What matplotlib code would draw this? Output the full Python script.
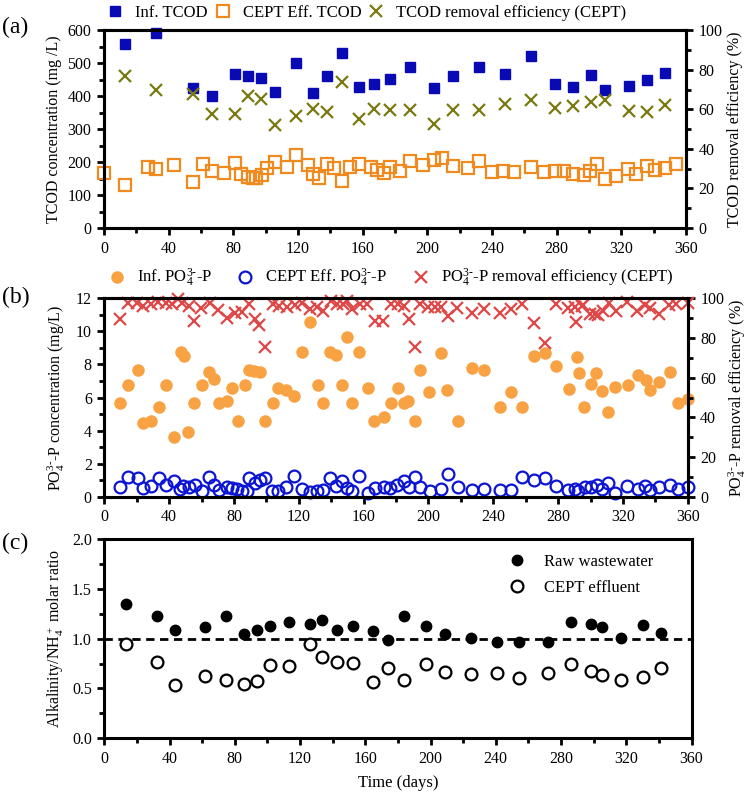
import numpy as np
import matplotlib
matplotlib.use('Agg')
import matplotlib.pyplot as plt
from matplotlib.ticker import MultipleLocator
from matplotlib.lines import Line2D

plt.rcParams['font.family'] = ['Liberation Serif', 'DejaVu Serif']
plt.rcParams['mathtext.fontset'] = 'custom'
plt.rcParams['mathtext.rm'] = 'Liberation Serif'
plt.rcParams['mathtext.it'] = 'Liberation Serif:italic'
plt.rcParams['font.size'] = 11

# ---- panel (a): TCOD ----
a_inf_day = [13, 32, 55, 67, 81, 89, 97, 106, 119, 129, 138, 147, 158, 167,
             177, 189, 204, 216, 232, 248, 264, 279, 290, 301, 310, 325, 336, 347]
a_inf = [557, 593, 426, 400, 466, 462, 456, 413, 501, 410, 460, 531, 428, 438,
         452, 490, 424, 461, 490, 467, 522, 437, 429, 463, 419, 431, 449, 472]
a_rem = [76.7, 70, 67.6, 57.5, 57.8, 66.8, 65.4, 52.3, 56.5, 60, 58.7, 73.9, 55, 60,
         59.5, 59.5, 52.8, 59.5, 59.5, 62.9, 65, 60.7, 61.7, 63.7, 65, 59, 58.7, 62]
a_eff_day = [0, 13, 27, 32, 43, 55, 61, 67, 74, 81, 85, 89, 92, 94, 97.5, 101, 106,
             113, 119, 126, 129, 133, 138, 142, 147, 152, 158, 165, 169, 173, 177,
             183, 189, 197, 204, 209, 216, 225, 232, 240, 247, 253.5, 264, 272, 279,
             284.5, 290, 297, 300.5, 304.7, 310, 316.6, 324, 329, 335.6, 341, 346.7, 354]
a_eff = [168, 132, 185, 178, 191, 140, 194, 172, 166, 197, 164, 155, 152, 152, 162, 181, 199,
         184, 221, 191, 164, 152, 193, 181, 142, 185, 195, 185, 176, 168, 185,
         172, 203, 191, 205, 213, 188, 181, 203, 170, 174, 170, 185, 170, 174,
         172, 164, 160, 172, 193, 148, 158, 178, 164, 188, 176, 181, 195]

# ---- panel (b): PO4-P ----
b_rem_day = [9.7, 14.8, 20, 24, 28.8, 33.3, 38, 42, 45.7, 48, 52, 55.5, 59.7, 65, 70, 76,
             80.6, 84.8, 89, 93, 95.7, 99, 104, 108, 112.5, 117.7, 121.8, 127, 131, 135,
             140, 143.4, 147.5, 150, 153, 157.8, 162, 167, 172, 177, 181, 185, 188, 192,
             195, 200, 204, 207.6, 212, 217.5, 226.7, 234, 244, 251, 258, 265, 272, 279,
             286, 290.5, 291, 294.6, 295.6, 299.7, 302.8, 304.8, 308, 311.6, 315.8,
             322.7, 328.5, 333.6, 336.7, 342, 348.6, 353, 360]
b_rem = [89.6, 97.5, 97.6, 96, 97.2, 98.3, 97.8, 97, 99.5, 97.8, 96, 88.7, 95, 97.5, 94, 90,
         92.4, 93, 97, 89.4, 86.5, 75.3, 97, 96, 95.5, 96.6, 97.5, 94.4, 95.5, 93.4,
         98.8, 97, 97, 98.5, 94.5, 97, 97, 88.7, 88.7, 97, 97, 96, 89.4, 75.3,
         97, 95.6, 95.6, 95.6, 91, 95, 92.4, 94.4, 92.4, 94.4, 97, 87.7, 77.3, 97,
         95, 95.6, 88, 96, 96.8, 92, 92, 91.6, 93.7, 97.5, 93.7,
         98.3, 93.7, 96.8, 95, 92, 96.8, 97, 97.8]
b_inf_day = [9.7, 14.8, 20.6, 24, 28.8, 33.8, 37.9, 42.8, 47.3, 49, 51.9, 55.5, 60, 64.8,
             67.9, 70.8, 76, 79, 82.7, 86.8, 89.3, 92.6, 96.3, 99, 104, 107.4, 112, 117,
             121.8, 127, 132, 135, 139.3, 142.8, 146.9, 150, 153, 157, 162.5, 166.6,
             172.8, 177, 181, 185, 187.6, 191.7, 194.8, 200.6, 207.6, 211.7, 218, 226.7,
             234, 244, 250.8, 258, 265, 272, 279, 287, 291.5, 293, 296, 300, 303.4, 307,
             311, 315.3, 323, 329, 334.3, 337, 342, 349, 354, 360]
b_inf = [5.69, 6.76, 7.66, 4.48, 4.56, 5.44, 6.76, 3.59, 8.77, 8.51, 3.89, 5.65, 6.76, 7.56,
         7.10, 5.65, 5.77, 6.56, 4.58, 6.76, 7.66, 7.58, 7.56, 4.58, 5.69, 6.56, 6.45, 6.09,
         8.77, 10.55, 6.76, 5.65, 8.77, 8.55, 6.76, 9.64, 5.65, 8.77, 6.56, 4.58,
         4.80, 5.69, 6.56, 5.65, 5.79, 4.58, 7.66, 6.35, 8.67, 6.45, 4.58, 7.76,
         7.66, 5.44, 6.35, 5.44, 8.51, 8.67, 7.90, 6.50, 8.43, 7.46, 5.44, 6.80, 7.46, 6.41,
         5.10, 6.62, 6.77, 7.34, 7.06, 6.45, 6.94, 7.56, 5.69, 5.89]
b_eff_day = [9.7, 14.8, 20.6, 24, 28.8, 33.8, 37.9, 42.8, 46.7, 48.8, 52.3, 56, 60, 64.8,
             67.9, 70.8, 75.7, 78.6, 81.7, 84.8, 87.9, 89.3, 93, 96.3, 99.2, 103.3, 107.4,
             112, 117, 121.8, 127, 131, 135, 139.3, 142.8, 146.9, 150, 153, 157, 162.5,
             167, 172.8, 176.5, 180.8, 185, 188, 191.7, 195, 201, 208, 212, 218, 227,
             234, 244, 251, 258, 265, 272, 279, 286, 290.5, 292.5, 296.6, 300, 303.8,
             307, 311, 315, 322.7, 329, 333.6, 336.7, 342, 349, 354, 360]
b_eff = [0.57, 1.17, 1.15, 0.51, 0.65, 1.11, 0.71, 0.95, 0.45, 0.65, 0.61, 0.69, 0.36, 1.17,
         0.71, 0.40, 0.61, 0.51, 0.45, 0.36, 0.34, 1.13, 0.81, 1.03, 1.11, 0.36, 0.32,
         0.61, 1.25, 0.45, 0.30, 0.34, 0.40, 1.15, 0.65, 0.97, 0.51, 0.34, 1.25, 0.24,
         0.55, 0.57, 0.53, 0.71, 0.97, 0.61, 1.17, 0.61, 0.36, 0.45, 1.37, 0.61, 0.40,
         0.45, 0.40, 0.40, 1.17, 1.03, 1.11, 0.65, 0.40, 0.45, 0.36, 0.57, 0.57, 0.69,
         0.45, 0.85, 0.24, 0.65, 0.45, 0.65, 0.40, 0.57, 0.71, 0.45, 0.57]

# ---- panel (c): alkalinity / NH4+ ----
c_day = [13.3, 32.5, 43.3, 61.7, 74.4, 85.6, 93.4, 101.7, 113.4, 126.3, 133.4, 142.4,
         152.2, 164.5, 173.7, 183.7, 197, 209, 225, 240.5, 254, 272, 286.4, 298.3,
         305.2, 317, 330.3, 341.2]
c_raw = [1.345, 1.23, 1.087, 1.114, 1.227, 1.047, 1.087, 1.13, 1.17, 1.147, 1.187, 1.087,
         1.127, 1.077, 0.986, 1.227, 1.127, 1.047, 1.01, 0.97, 0.963, 0.97, 1.17, 1.147,
         1.114, 1.003, 1.134, 1.054]
c_cept = [0.946, 0.769, 0.532, 0.625, 0.582, 0.542, 0.572, 0.732, 0.726, 0.946, 0.819, 0.766,
          0.752, 0.568, 0.709, 0.585, 0.742, 0.665, 0.642, 0.659, 0.602, 0.659, 0.746, 0.679,
          0.635, 0.585, 0.619, 0.702]

xticks = [0, 40, 80, 120, 160, 200, 240, 280, 320, 360]

fig = plt.figure(figsize=(7.5, 7.94), dpi=100)


def style_axis(ax, ymaj, ymin):
    ax.set_xlim(0, 360)
    ax.set_xticks(xticks)
    ax.xaxis.set_minor_locator(MultipleLocator(20))
    ax.yaxis.set_major_locator(MultipleLocator(ymaj))
    ax.yaxis.set_minor_locator(MultipleLocator(ymin))
    for s in ax.spines.values():
        s.set_linewidth(2.2)
    ax.tick_params(which='major', direction='out', length=5, width=2, labelsize=11.5, pad=4)
    ax.tick_params(which='minor', direction='out', length=3.5, width=2)


def style_right(ax2, ymaj, ymin):
    ax2.yaxis.set_major_locator(MultipleLocator(ymaj))
    ax2.yaxis.set_minor_locator(MultipleLocator(ymin))
    ax2.tick_params(which='major', direction='out', length=5, width=2, labelsize=11.5, pad=4)
    ax2.tick_params(which='minor', direction='out', length=3.5, width=2)
    for s in ax2.spines.values():
        s.set_linewidth(2.2)


# (a)
ax1 = fig.add_axes([0.1387, 0.7128, 0.776, 0.249])
ax1r = ax1.twinx()
ax1.plot(a_inf_day, a_inf, 's', color='#0a0ab4', ms=7, clip_on=False, zorder=3)
ax1.plot(a_eff_day, a_eff, 's', mfc='none', mec='#f08a1e', mew=1.6, ms=8, clip_on=False, zorder=3)
ax1r.plot(a_inf_day, a_rem, 'x', color='#7a7a10', ms=8, mew=1.6, clip_on=False)
ax1.set_ylim(0, 600)
ax1r.set_ylim(0, 100)
style_axis(ax1, 100, 50)
style_right(ax1r, 20, 10)
ax1.set_ylabel('TCOD concentration (mg /L)', fontsize=11.5, labelpad=4)
ax1r.set_ylabel('TCOD removal efficiency (%)', fontsize=11.5, labelpad=3)
h1 = [Line2D([], [], ls='none', marker='s', color='#0a0ab4', ms=7),
      Line2D([], [], ls='none', marker='s', mfc='none', mec='#f08a1e', mew=1.6, ms=8),
      Line2D([], [], ls='none', marker='x', color='#7a7a10', ms=8, mew=1.6)]
ax1.legend(h1, ['Inf. TCOD', 'CEPT Eff. TCOD', 'TCOD removal efficiency (CEPT)'],
           loc='lower center', bbox_to_anchor=(0.45, 0.97), ncol=3, frameon=False,
           fontsize=12, handletextpad=0.6, columnspacing=0.3, handlelength=1.2)

# (b)
ax2 = fig.add_axes([0.139, 0.3744, 0.778, 0.2499])
ax2r = ax2.twinx()
ax2.plot(b_inf_day, b_inf, 'o', color='#f8a244', ms=8, zorder=3, clip_on=False)
ax2.plot(b_eff_day, b_eff, 'o', mfc='none', mec='#0a14d2', mew=1.6, ms=8.5, zorder=3, clip_on=False)
ax2r.plot(b_rem_day, b_rem, 'x', color='#e04848', ms=8, mew=1.6, clip_on=False)
ax2.set_ylim(0, 12)
ax2r.set_ylim(0, 100)
style_axis(ax2, 2, 1)
style_right(ax2r, 20, 10)
ax2.set_ylabel('PO$_4^{3\\text{-}}$-P concentration (mg/L)', fontsize=11.5, labelpad=6)
ax2r.set_ylabel('PO$_4^{3\\text{-}}$-P removal efficiency (%)', fontsize=11.5, labelpad=2)
h2 = [Line2D([], [], ls='none', marker='o', color='#f8a244', ms=8),
      Line2D([], [], ls='none', marker='o', mfc='none', mec='#0a14d2', mew=1.6, ms=8.5),
      Line2D([], [], ls='none', marker='x', color='#e04848', ms=8, mew=1.6)]
ax2.legend(h2, ['Inf. PO$_4^{3\\text{-}}$-P', 'CEPT Eff. PO$_4^{3\\text{-}}$-P',
                'PO$_4^{3\\text{-}}$-P removal efficiency (CEPT)'],
           loc='lower center', bbox_to_anchor=(0.49, 0.97), ncol=3, frameon=False,
           fontsize=12, handletextpad=0.6, columnspacing=1.4, handlelength=1.2)

# (c)
ax3 = fig.add_axes([0.139, 0.0702, 0.783, 0.251])
ax3.axhline(1.0, color='black', lw=2, ls=(0, (3, 2)), zorder=1)
ax3.plot(c_day, c_raw, 'o', color='black', ms=7.5, zorder=3, label='Raw wastewater')
ax3.plot(c_day, c_cept, 'o', mfc='white', mec='black', mew=1.6, ms=8.5, zorder=3, label='CEPT effluent')
ax3.set_ylim(0, 2.0)
style_axis(ax3, 0.5, 0.25)
ax3.yaxis.set_major_formatter(matplotlib.ticker.FormatStrFormatter('%.1f'))
ax3.set_ylabel('Alkalinity/NH$_4^+$ molar ratio', fontsize=11.5, labelpad=4)
ax3.set_xlabel('Time (days)', fontsize=12, labelpad=6)
ax3.legend(loc='upper right', bbox_to_anchor=(0.96, 1.0), frameon=False, fontsize=12,
           handletextpad=1.0, labelspacing=0.6, handlelength=1.2)

for lab, y in [('(a)', 0.966), ('(b)', 0.626), ('(c)', 0.316)]:
    fig.text(0.003, y, lab, fontsize=17, va='center', ha='left')

fig.savefig('out.png', dpi=100)
